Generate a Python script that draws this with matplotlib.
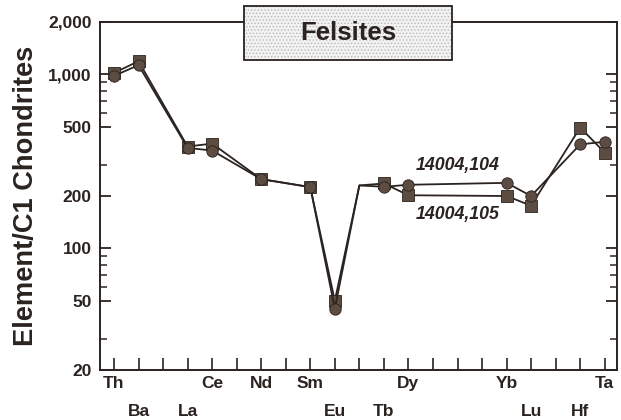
import numpy as np
from matplotlib import pyplot as plt
from matplotlib.patches import Rectangle
from matplotlib.ticker import FixedLocator, NullFormatter

plt.rcParams['font.family'] = ['Liberation Sans', 'DejaVu Sans']
plt.rcParams['font.weight'] = 'bold'
plt.rcParams['hatch.linewidth'] = 0.6

elements = ['Th', 'Ba', 'La', 'Ce', 'Nd', 'Sm', 'Eu', 'Tb', 'Dy', 'Yb', 'Lu', 'Hf', 'Ta']
positions = [54, 55, 57, 58, 60, 62, 63, 65, 66, 70, 71, 73, 74]
label_row = [0, 1, 1, 0, 0, 0, 1, 1, 0, 0, 1, 1, 0]  # 0 = upper row, 1 = lower row

s104 = [980, 1130, 378, 365, 250, 225, 45, 226, 232, 238, 200, 396, 410]  # circles
s105 = [1020, 1190, 385, 400, 250, 225, 50, 236, 202, 200, 176, 495, 355]  # squares

# Gd is not measured: the lines pass through it without a marker
gd_pos = 64
gd_104 = 230
gd_105 = 230

y_major = [20, 50, 100, 200, 500, 1000, 2000]
y_labels = ['20', '50', '100', '200', '500', '1,000', '2,000']
y_minor = [30, 60, 70, 80, 90, 300, 600, 700, 800, 900]

ink = '#2a231f'
fill = '#5c4c41'

fig = plt.figure(figsize=(6.21, 4.2), dpi=100)
ax = fig.add_axes([100 / 621, 50 / 420, 517 / 621, 348 / 420])

ix = positions.index(63) + 1
x_line = positions[:ix] + [gd_pos] + positions[ix:]
y104 = s104[:ix] + [gd_104] + s104[ix:]
y105 = s105[:ix] + [gd_105] + s105[ix:]
marks = [i for i in range(len(x_line)) if i != ix]

ax.plot(x_line, y105, color=ink, lw=1.3, marker='s', ms=8.2, markevery=marks,
        mfc=fill, mec=ink, mew=0.6, zorder=3)
ax.plot(x_line, y104, color=ink, lw=1.3, marker='o', ms=8.2, markevery=marks,
        mfc=fill, mec=ink, mew=0.6, zorder=4)

ax.set_yscale('log')
ax.set_ylim(20, 2000)
ax.set_xlim(53.43, 74.5)

ax.yaxis.set_major_locator(FixedLocator(y_major))
ax.yaxis.set_minor_locator(FixedLocator(y_minor))
ax.yaxis.set_minor_formatter(NullFormatter())
ax.set_yticklabels(y_labels)
ax.tick_params(axis='y', which='major', direction='in', length=8, width=1.3,
               left=True, right=True, labelsize=12.5, labelcolor=ink, color=ink, pad=6)
ax.tick_params(axis='y', which='minor', direction='in', length=5, width=1.1,
               left=True, right=True, color=ink)

ax.set_xticks(np.arange(54, 75))
ax.set_xticklabels([])
ax.tick_params(axis='x', which='both', direction='in', length=9, width=1.2,
               bottom=True, top=False, color=ink)

for el, x, row in zip(elements, positions, label_row):
    ax.text(x, -0.038 - row * 0.08, el, transform=ax.get_xaxis_transform(),
            ha='center', va='center', fontsize=12.5, fontweight='bold', color=ink)

for side in ax.spines.values():
    side.set_linewidth(1.4)
    side.set_color(ink)

ax.set_ylabel('Element/C1 Chondrites', fontsize=19.6, fontweight='bold', color=ink)
ax.yaxis.set_label_coords(-0.118, 0.5)

ax.text(68.0, 298, '14004,104', ha='center', va='center', fontsize=12.8,
        fontweight='bold', style='italic', color=ink)
ax.text(68.0, 157, '14004,105', ha='center', va='center', fontsize=12.8,
        fontweight='bold', style='italic', color=ink)

# title box with stippled fill
bx, by, bw, bh = 0.2785, 0.891, 0.4025, 0.155
ax.add_patch(Rectangle((bx, by), bw, bh, transform=ax.transAxes, facecolor='#f2f2f2',
                       edgecolor='#b8b8b8', hatch='.....', lw=0, clip_on=False, zorder=5))
ax.add_patch(Rectangle((bx, by), bw, bh, transform=ax.transAxes, facecolor='none',
                       edgecolor=ink, lw=1.3, clip_on=False, zorder=6))
ax.text(bx + bw / 2, by + bh / 2, 'Felsites', transform=ax.transAxes, ha='center',
        va='center', fontsize=18.5, fontweight='bold', color=ink, zorder=7)

fig.savefig('out.png', dpi=100)
